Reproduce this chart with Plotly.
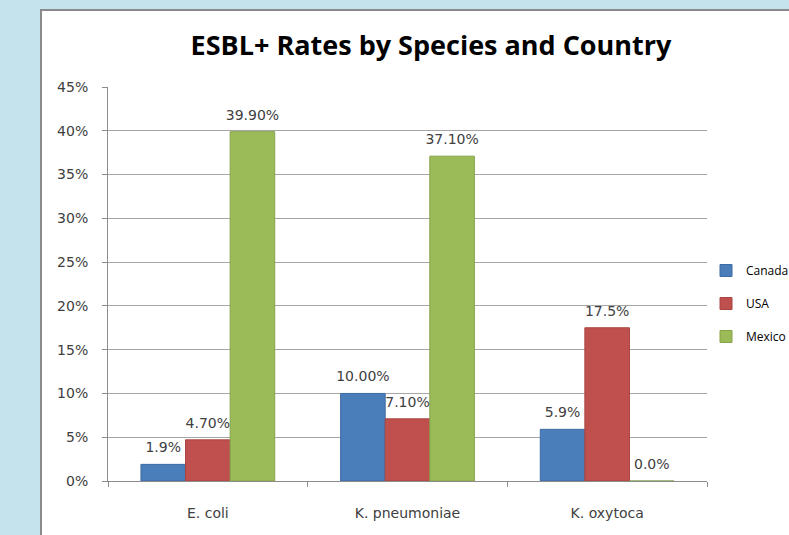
import plotly.graph_objects as go

species = ["E. coli", "K. pneumoniae", "K. oxytoca"]
countries = ["Canada", "USA", "Mexico"]
canada = [1.9, 10.0, 5.9]
usa = [4.7, 7.1, 17.5]
mexico = [39.9, 37.1, 0.0]
canada_lbl = ["1.9%", "10.00%", "5.9%"]
usa_lbl = ["4.70%", "7.10%", "17.5%"]
mexico_lbl = ["39.90%", "37.10%", "0.0%"]
y_ticks = [0, 5, 10, 15, 20, 25, 30, 35, 40, 45]
y_tick_text = [f"{v}%" for v in y_ticks]

colors = ["#4a7ebb", "#c0504d", "#9bbb59"]
line_colors = ["#3d6ba3", "#a84441", "#86a34b"]

W, H = 789, 535
L, R, T, B = 108, 707, 87, 481

def px(x):
    return (x - L) / (R - L)

def py(y):
    return (B - y) / (B - T)

fig = go.Figure()
for name, vals, c, lc in zip(countries, [canada, usa, mexico], colors, line_colors):
    fig.add_trace(go.Bar(
        name=name, x=species, y=vals,
        marker=dict(color=c, line=dict(color=lc, width=1)),
        legendgroup=name, offsetgroup=name,
    ))
for name, vals, lbls in zip(countries, [canada, usa, mexico],
                            [canada_lbl, usa_lbl, mexico_lbl]):
    fig.add_trace(go.Scatter(
        name=name, x=species, y=vals, text=lbls,
        mode="markers+text", textposition="top center",
        marker=dict(size=12, color="rgba(0,0,0,0)"),
        textfont=dict(family="DejaVu Sans", size=14, color="#404040"),
        cliponaxis=False, showlegend=False, hoverinfo="skip",
        offsetgroup=name,
    ))

fig.update_layout(
    width=W, height=H,
    margin=dict(l=L, r=W - R, t=T, b=H - B, autoexpand=False),
    paper_bgcolor="#c5e3ec",
    plot_bgcolor="#e6e6e6",
    barmode="group",
    bargap=0.33,
    bargroupgap=0,
    scattermode="group",
    scattergap=0.33,
    showlegend=True,
    title=dict(text="<b>ESBL+ Rates by Species and Country</b>",
               x=px(431), xref="paper", xanchor="center",
               y=1 - 46 / H, yanchor="middle",
               font=dict(family="Open Sans", size=27, color="#000000")),
    legend=dict(x=px(706), y=py(256), xanchor="left", yanchor="top",
                font=dict(family="Open Sans", size=12, color="#000000"),
                bgcolor="rgba(0,0,0,0)", itemwidth=30, tracegroupgap=14),
    shapes=[
        dict(type="rect", xref="paper", yref="paper",
             x0=px(41), x1=px(900), y0=py(10), y1=py(700),
             fillcolor="white", line=dict(color="#8a8a8a", width=2), layer="below"),
    ],
)

fig.update_xaxes(
    showline=True, linecolor="#8c8c8c", linewidth=1,
    ticks="outside", tickson="boundaries", ticklen=5, tickcolor="#8c8c8c",
    tickfont=dict(family="DejaVu Sans", size=14, color="#404040"),
    ticklabelstandoff=19,
    showgrid=False,
)
fig.update_yaxes(
    range=[0, 45], tickvals=y_ticks, ticktext=y_tick_text,
    showline=True, linecolor="#8c8c8c", linewidth=1,
    ticks="outside", ticklen=5, tickcolor="#8c8c8c",
    tickfont=dict(family="DejaVu Sans", size=14, color="#404040"),
    ticklabelstandoff=11,
    showgrid=True, gridcolor="#a6a6a6", gridwidth=1,
    zeroline=False,
)

fig.write_html("out.html")
